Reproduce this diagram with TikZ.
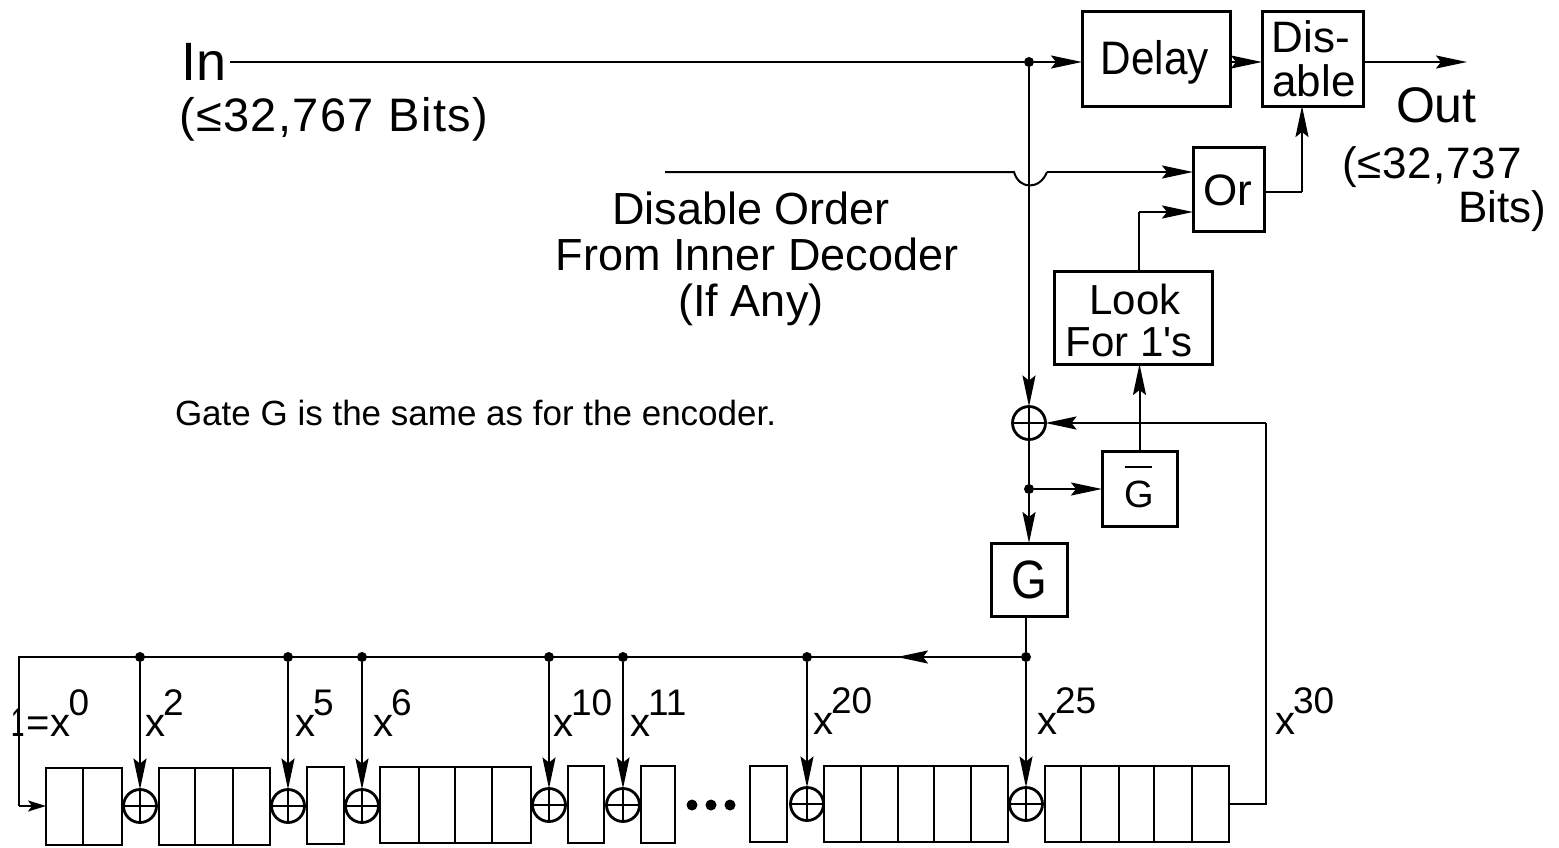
\documentclass[tikz,border=0pt]{standalone}
\usepackage{fontspec}
\setmainfont{Liberation Sans}
\usetikzlibrary{arrows.meta,calc}
\newcommand{\fs}[1]{\fontsize{#1}{#1}\selectfont}
\newcommand{\xp}[1]{{\fs{40}x}\kern-2pt\raisebox{21pt}{\fs{37}#1}}
\tikzset{
  x=1pt,y=-1pt,
  wire/.style={line width=2pt,draw=black},
  arr/.style={wire,-{Stealth[length=31pt,width=13pt,inset=5pt]}},
  arrshort/.style={wire,-{Stealth[length=18pt,width=11pt,inset=4pt]}},
  box/.style={draw=black,line width=3pt,inner sep=0pt,outer sep=0pt,rectangle},
  cell/.style={box,line width=2.8pt},
  xor/.style={circle,draw=black,line width=2.8pt,minimum size=33pt,inner sep=0pt,outer sep=0pt,
    path picture={\draw[line width=2pt] (path picture bounding box.north)--(path picture bounding box.south)
      (path picture bounding box.west)--(path picture bounding box.east);}},
  dot/.style={circle,fill=black,minimum size=10pt,inner sep=0pt,outer sep=0pt},
  lab/.style={anchor=base,inner sep=0pt,outer sep=0pt,align=center},
  labw/.style={anchor=base west,inner sep=0pt,outer sep=0pt},
}
% name, x1, x2, y1, y2
\newcommand{\bx}[6][box]{\node[#1,minimum width={(#4-#3)*1pt},minimum height={(#6-#5)*1pt}] (#2) at ({(#3+#4)/2},{(#5+#6)/2}) {};}
\begin{document}
\begin{tikzpicture}
\useasboundingbox (0,0) rectangle (1559,847);
% main boxes
\bx{delay}{1082}{1230}{11}{106}
\bx{dis}{1262}{1363}{11}{106}
\bx{or}{1193}{1264}{147}{231}
\bx{look}{1054}{1212}{271}{364}
\bx{gbar}{1102}{1177}{451}{526}
\bx{g}{991}{1067}{543}{616}
\node[lab] at (1155,74) {\scalebox{.9}[1]{\fs{47}Delay}};
\node[lab] at (1311,52) {\fs{44}Dis-};
\node[lab] at (1314,96) {\fs{44}able};
\node[lab] at (1228,205) {\fs{44}Or};
\node[lab] at (1135,314) {\fs{42}Look};
\node[lab] at (1129,356) {\fs{42}For 1\textquotesingle s};
\node[lab] at (1139,507) {\fs{38}\rlap{\kern1pt\raisebox{39pt}{\rule{27pt}{2.4pt}}}G};
\node[lab] at (1029,598) {\scalebox{.85}[1]{\fs{54}G}};
% text
\node[labw] at (181,80) {\fs{54}In};
\node[labw] at (179,131) {\fs{47}\addfontfeature{LetterSpace=3}(≤32,767 Bits)};
\node[labw] at (1396,122) {\fs{50}Out};
\node[labw] at (1342,178) {\fs{44}\addfontfeature{LetterSpace=2}(≤32,737};
\node[labw] at (1458,222) {\fs{44}Bits)};
\node[lab] at (751,224) {\fs{45}Disable Order};
\node[lab] at (757,270) {\fs{45}From Inner Decoder};
\node[lab] at (751,316) {\fs{45}(If Any)};
\node[labw] at (175,425) {\fs{35}Gate G is the same as for the encoder.};
% register cells
\bx[cell]{a1}{46}{83}{768}{845}\bx[cell]{a2}{83}{122}{768}{845}
\bx[cell]{b1}{159}{195}{768}{845}\bx[cell]{b2}{195}{233}{768}{845}\bx[cell]{b3}{233}{270}{768}{845}
\bx[cell]{c1}{307}{344}{767}{844}
\bx[cell]{d1}{380}{419}{767}{843}\bx[cell]{d2}{419}{455}{767}{843}\bx[cell]{d3}{455}{492}{767}{843}\bx[cell]{d4}{492}{531}{767}{843}
\bx[cell]{e1}{568}{604}{766}{843}
\bx[cell]{f1}{641}{675}{766}{843}
\bx[cell]{h1}{750}{787}{766}{842}
\bx[cell]{i1}{824}{861}{766}{842}\bx[cell]{i2}{861}{898}{766}{842}\bx[cell]{i3}{898}{934}{766}{842}\bx[cell]{i4}{934}{971}{766}{842}\bx[cell]{i5}{971}{1008}{766}{842}
\bx[cell]{j1}{1045}{1081}{766}{842}\bx[cell]{j2}{1081}{1119}{766}{842}\bx[cell]{j3}{1119}{1154}{766}{842}\bx[cell]{j4}{1154}{1192}{766}{842}\bx[cell]{j5}{1192}{1229}{766}{842}
% xors
\node[xor] (xt) at (1029,423) {};
\node[xor] (x2) at (140,806) {};
\node[xor] (x5) at (288,806) {};
\node[xor] (x6) at (362,806) {};
\node[xor] (x10) at (549,805) {};
\node[xor] (x11) at (623,805) {};
\node[xor] (x20) at (807,804) {};
\node[xor] (x25) at (1026,804) {};
% dots
\node[dot] (tin) at (1029,62) {};
\node[dot] (tg) at (1029,489) {};
\node[dot] (t2) at (140,657) {};
\node[dot] (t5) at (288,657) {};
\node[dot] (t6) at (362,657) {};
\node[dot] (t10) at (549,657) {};
\node[dot] (t11) at (623,657) {};
\node[dot] (t20) at (807,657) {};
\node[dot] (t25) at (1026,657) {};
\node[dot,minimum size=11pt] (e1) at (692,805) {};
\node[dot,minimum size=11pt] (e2) at (711,805) {};
\node[dot,minimum size=11pt] (e3) at (730,805) {};
% free ends
\coordinate (in) at (230,62);
\coordinate (out) at (1467,62);
\coordinate (ord) at (665,172);
\coordinate (hl) at (1014,172);
\coordinate (hr) at (1047,172);
\coordinate (ora) at (1193,172);
\coordinate (orb) at (1193,212);
\coordinate (lk) at (1139,271);
\coordinate (lkb) at (1139,212);
\coordinate (ors) at (1264,192);
\coordinate (orc) at (1302,192);
\coordinate (dsb) at (1302,106);
\coordinate (bl) at (19,657);
\coordinate (bld) at (19,806);
\coordinate (ain) at (46,806);
\coordinate (mid) at (897,657);
\coordinate (fbr) at (1266,804);
\coordinate (fbt) at (1266,423);
% connectors
\draw[wire] (in) -- (tin);
\draw[arr] (tin) -- (tin -| delay.west);
\draw[arr] (delay.east |- 0,62) -- (dis.west |- 0,62);
\draw[arr] (dis.east |- 0,62) -- (out);
\draw[arr] (tin) -- (xt.north);
\draw[wire] (ord) -- (hl) .. controls (1019,190) and (1040,190) .. (hr);
\draw[arr] (hr) -- (ora);
\draw[wire] (lk) -- (lkb);
\draw[arr] (lkb) -- (orb);
\draw[wire] (ors) -- (orc);
\draw[arr] (orc) -- (dsb);
\draw[wire] (xt.south) -- (tg);
\draw[arr] (tg) -- (g.north);
\draw[arr] (tg) -- (tg -| gbar.west);
\draw[arr] (gbar.north) -- (look.south -| gbar.north);
\draw[wire] (g.south -| t25) -- (t25);
\draw[wire] (t25) -- (bl) -- (bld);
\draw[arrshort] (bld) -- (ain);
\draw[arr] (t25) -- (mid);
\foreach \n in {2,5,6,10,11,20,25} {\draw[arr] (t\n) -- (x\n.north);}
\draw[wire] (j5.east) -- (fbr) -- (fbt);
\draw[arr] (fbt) -- (xt.east);
% exponent labels
\node[labw] at (12,736) {\fs{40}\scalebox{.6}[1]{\fs{40}1}\kern1pt=\kern1pt\xp{0}};
\node[labw] at (145,736) {\xp{2}};
\node[labw] at (295,736) {\xp{5}};
\node[labw] at (373,736) {\xp{6}};
\node[labw] at (553,736) {\xp{10}};
\node[labw] at (630,736) {\xp{11}};
\node[labw] at (813,734) {\xp{20}};
\node[labw] at (1037,734) {\xp{25}};
\node[labw] at (1275,734) {\xp{30}};
\end{tikzpicture}
\end{document}
